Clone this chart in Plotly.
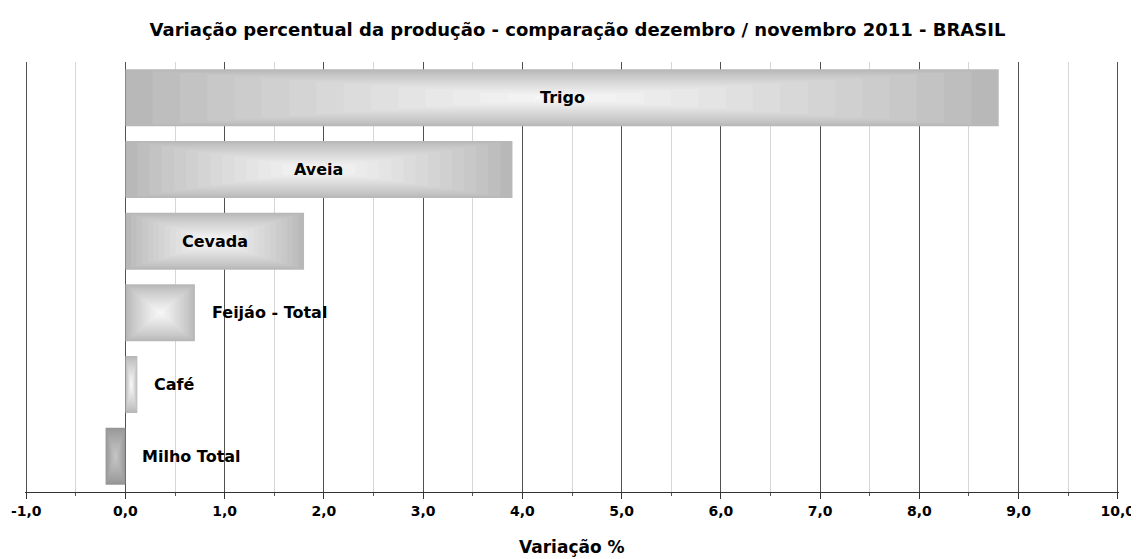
import plotly.graph_objects as go

# ---- data ----
categories = ["Trigo", "Aveia", "Cevada", "Feijáo - Total", "Café", "Milho Total"]
values = [8.8, 3.9, 1.8, 0.7, 0.12, -0.2]
tick_values = [-1, 0, 1, 2, 3, 4, 5, 6, 7, 8, 9, 10]
tick_labels = ["-1,0", "0,0", "1,0", "2,0", "3,0", "4,0", "5,0", "6,0", "7,0", "8,0", "9,0", "10,0"]
title_text = "Variação percentual da produção - comparação dezembro / novembro 2011 - BRASIL"
axis_title = "Variação %"

# ---- style ----
FONT = "DejaVu Sans"
BAR_W = 0.795
N_LAYERS = 16
POS_OUT, POS_IN = (184, 184, 184), (246, 246, 246)
NEG_OUT, NEG_IN = (150, 150, 150), (196, 196, 196)


def mix(a, b, t):
    return "rgb({},{},{})".format(*[round(a[i] + (b[i] - a[i]) * t) for i in range(3)])


fig = go.Figure()

# concentric layers approximate the "from centre" gradient fill
for k in range(N_LAYERS):
    f = k / N_LAYERS
    t = (k / (N_LAYERS - 1)) ** 0.85
    colors = [mix(POS_OUT, POS_IN, t) if v >= 0 else mix(NEG_OUT, NEG_IN, t) for v in values]
    fig.add_trace(go.Bar(
        y=categories,
        x=[v * (1 - f) for v in values],
        base=[v * f / 2 for v in values],
        width=[BAR_W * (1 - f)] * len(values),
        orientation="h",
        marker=dict(color=colors, line=dict(width=0)),
        showlegend=False,
        hoverinfo="skip",
    ))

# bar labels
inside = {"Trigo", "Aveia", "Cevada"}
for c, v in zip(categories, values):
    if c in inside:
        fig.add_annotation(x=v / 2, y=c, text=c, showarrow=False, xanchor="center",
                           font=dict(family=FONT, size=16, color="black", weight="bold"))
    else:
        fig.add_annotation(x=max(v, 0), y=c, text=c, showarrow=False, xanchor="left", xshift=15,
                           font=dict(family=FONT, size=16, color="black", weight="bold"))

fig.add_annotation(x=0.5, y=-0.128, xref="paper", yref="paper", text=axis_title, showarrow=False,
                   xanchor="center", yanchor="middle",
                   font=dict(family=FONT, size=17, color="black", weight="bold"))

fig.update_layout(
    width=1139, height=559,
    margin=dict(l=17, r=28, t=54, b=75, autoexpand=False),
    paper_bgcolor="white", plot_bgcolor="white",
    barmode="overlay",
    title=dict(text=title_text, x=0.5, xanchor="center", y=1 - 22 / 559, yanchor="middle",
               font=dict(family=FONT, size=18, color="black", weight="bold")),
    xaxis=dict(
        range=[-1.012, 10.012], tickvals=tick_values, ticktext=tick_labels,
        automargin=False,
        showgrid=True, gridcolor="#505050", gridwidth=1,
        zeroline=False,
        showline=True, linecolor="#333333", linewidth=1.2,
        ticks="outside", ticklen=6, tickcolor="#333333",
        tickfont=dict(family=FONT, size=14, color="black", weight="bold"),
        minor=dict(tickvals=[x + 0.5 for x in tick_values[:-1]], showgrid=True, gridcolor="#d6d6d6",
                   ticks="outside", ticklen=3, tickcolor="#555555"),
    ),
    yaxis=dict(
        categoryorder="array", categoryarray=categories, automargin=False,
        range=[5.5, -0.5], showticklabels=False, showgrid=False, zeroline=False, showline=False,
        ticks="",
    ),
)

fig.write_html("out.html")
